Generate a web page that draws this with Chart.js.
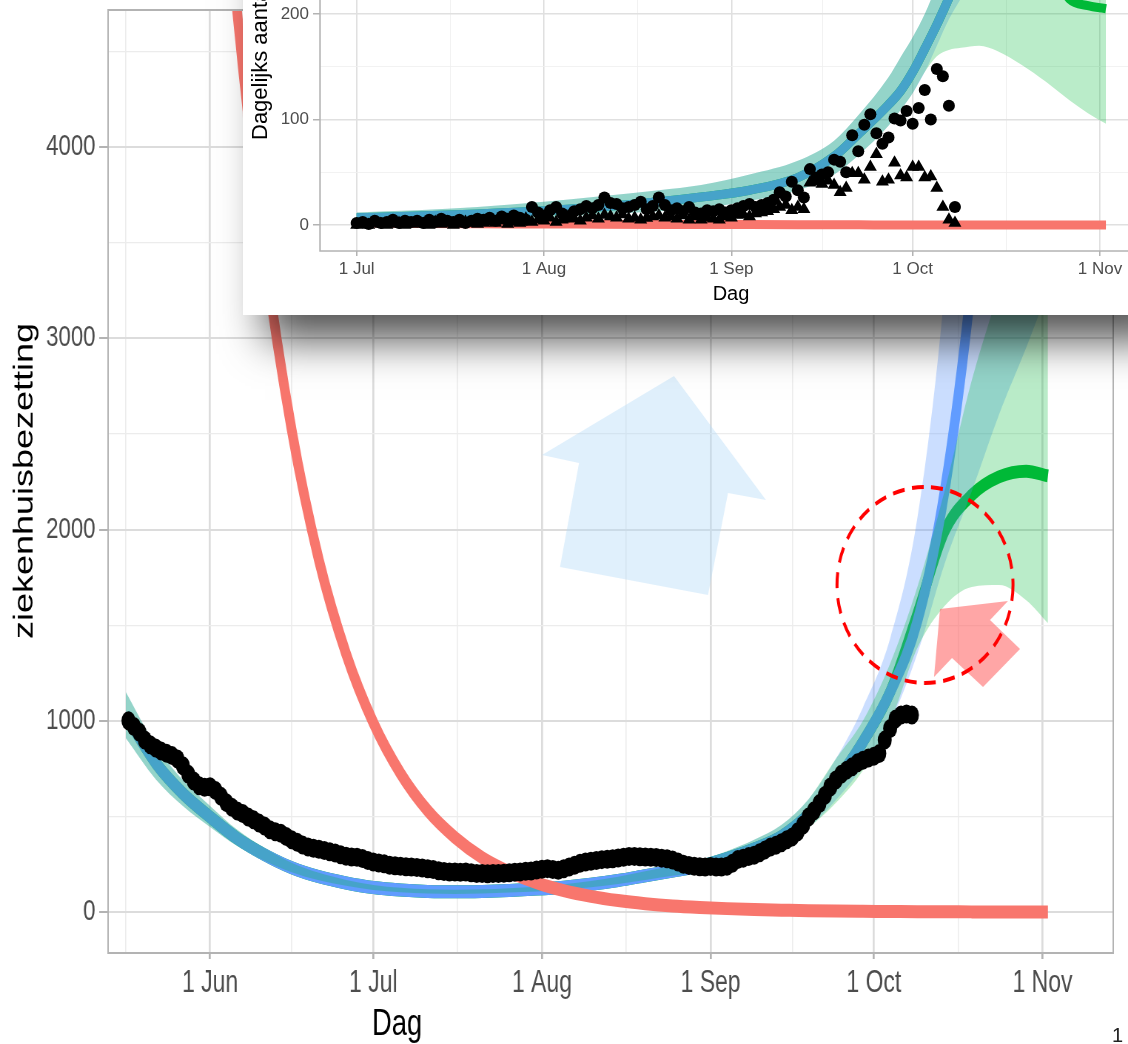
<!DOCTYPE html>
<html>
<head>
<meta charset="utf-8">
<script src="https://cdn.jsdelivr.net/npm/chart.js@4.4.1/dist/chart.umd.min.js"></script>
<style>
  html, body { margin: 0; padding: 0; background: #fff; overflow: hidden; }
  #page { position: relative; width: 1128px; height: 1044px; overflow: hidden; background: #fff; }
  #main { position: absolute; left: 0; top: 0; }
  #inset { position: absolute; left: 243px; top: -300px; width: 925px; height: 615px; background: #fff;
           box-shadow: 12px 35px 40px -10px rgba(0,0,0,0.68); }
  #pageNo { position: absolute; left: 1112px; top: 1024px; font: 20px 'Liberation Sans', Arial, sans-serif; color: #222; }
</style>
</head>
<body>
<div id="page">
  <canvas id="main" width="1524" height="1044" style="width:1128px;height:1044px"></canvas>
  <div id="inset"><canvas id="insetChart" width="925" height="615" style="width:925px;height:615px"></canvas></div>
  <div id="pageNo">1</div>
</div>
<script>
// ---------- main chart: x = days counted from 1 Jun ----------
const mainTickDays = [-15.5, 0, 15, 30, 45.5, 61, 76.5, 92, 107, 122, 137.5, 153];
const mainMonthDays = [0, 30, 61, 92, 122, 153];
const mainMonthLabels = ['1 Jun', '1 Jul', '1 Aug', '1 Sep', '1 Oct', '1 Nov'];
const mainYTicks = [0, 500, 1000, 1500, 2000, 2500, 3000, 3500, 4000, 4500];
const mainYMajor = [0, 1000, 2000, 3000, 4000];

// hospital occupancy, one value per day from 16 May (day -15) to 8 Oct (day 129)
const occStart = -15;
const occupancy = [
  1000, 970, 940, 900, 875, 858, 842, 830, 818, 800,
  765, 720, 685, 660, 652, 655, 635, 605, 572, 548,
  528, 515, 497, 482, 465, 450, 430, 420, 412, 395,
  378, 365, 350, 340, 333, 328, 322, 315, 309, 300,
  292, 288, 287, 280, 270, 262, 257, 252, 245, 242,
  240, 237, 236, 233, 230, 226, 222, 216, 212, 209,
  210, 208, 209, 205, 202, 201, 200, 202, 201, 203,
  205, 208, 210, 213, 215, 220, 224, 227, 222, 218,
  226, 236, 245, 255, 262, 266, 270, 274, 276, 279,
  283, 287, 290, 291, 289, 288, 287, 285, 282, 279,
  272, 262, 250, 244, 240, 237, 236, 238, 236, 235,
  240, 255, 275, 282, 290, 297, 310, 325, 340, 349,
  362, 378, 393, 420, 455, 497, 530, 567, 610, 654,
  690, 720, 742, 760, 780, 794, 805, 815, 829, 899,
  960, 1010, 1030, 1035, 1030
];

// model curves (same day grid)
const modelDays = [-15.5, -10, -5, 0, 5, 10, 15, 20, 25, 30, 35, 40, 45, 50, 55, 60, 65, 70, 75, 80,
                   85, 90, 95, 100, 105, 110, 115, 120, 125, 130, 135, 140, 145, 150, 154];
const blueFit = [1030, 780, 620, 497, 385, 300, 232, 185, 152, 128, 115, 108, 106, 108, 113, 120, 130, 145, 165, 190,
                 215, 240, 280, 330, 395, 510, 680, 890, 1150, 1520, 2200, 3300, 4900, 7200, 9500];
const blueHi = [1150, 870, 690, 555, 430, 335, 258, 205, 168, 142, 127, 119, 117, 119, 125, 133, 145, 162, 185, 213,
                242, 272, 318, 378, 455, 590, 800, 1070, 1430, 2060, 3250, 5200, 8000, 12000, 16000];
const blueLo = [910, 695, 555, 445, 345, 268, 208, 166, 137, 115, 104, 97, 95, 97, 102, 108, 117, 130, 147, 168,
                190, 210, 245, 287, 342, 440, 585, 760, 990, 1350, 1820, 2200, 2600, 2950, 3250];
const greenFit = [1030, 780, 620, 497, 385, 300, 232, 185, 152, 128, 115, 108, 106, 108, 113, 120, 130, 145, 165, 190,
                  215, 240, 280, 330, 395, 510, 680, 890, 1150, 1560, 1990, 2180, 2275, 2305, 2280];
const greenHi = [1150, 870, 690, 555, 430, 335, 258, 205, 168, 142, 127, 119, 117, 119, 125, 133, 145, 162, 185, 213,
                 242, 272, 318, 378, 455, 590, 800, 1000, 1300, 1700, 2200, 2780, 3250, 3700, 4000];
const greenLo = [910, 695, 555, 445, 345, 268, 208, 166, 137, 115, 104, 97, 95, 97, 102, 108, 117, 130, 147, 168,
                 190, 210, 245, 287, 342, 440, 570, 740, 990, 1380, 1600, 1700, 1710, 1630, 1510];
const redFit = [17000, 12400, 9100, 6350, 4700, 3450, 2520, 1840, 1350, 990, 725, 530, 390, 285, 210, 153, 112, 82, 60, 44,
                32, 24, 18, 13, 10, 7, 5, 4, 3, 2, 2, 1, 1, 1, 1];

// ---------- inset: x = days counted from 1 Jul ----------
const insetTickDays = [0, 15.5, 31, 46.5, 62, 77, 92, 107.5, 123];
const insetMonthDays = [0, 31, 62, 92, 123];
const insetMonthLabels = ['1 Jul', '1 Aug', '1 Sep', '1 Oct', '1 Nov'];
const insetYTicks = [0, 50, 100, 150, 200, 250, 300, 350, 400, 450];
const insetYMajor = [0, 100, 200, 300, 400];

const obsStart = 0;
const admCircles = [
  2, 3, 1, 4, 2, 3, 5, 2, 4, 3,
  4, 2, 5, 3, 6, 4, 3, 5, 2, 4,
  6, 5, 7, 4, 8, 6, 9, 7, 5, 17,
  12, 9, 14, 17, 11, 8, 13, 15, 18, 16,
  19, 26, 21, 20, 16, 17, 19, 22, 15, 18,
  26, 19, 14, 16, 13, 17, 12, 11, 14, 13,
  15, 12, 14, 16, 18, 20, 17, 19, 21, 24,
  31, 27, 41, 33, 26, 53, 45, 48, 50, 62,
  60, 50, 85, 70, 95, 105, 87, 77, 83, 101,
  99, 108, 96, 111, 128, 100, 148, 141, 113, 17
];
const admTriangles = [
  0, 1, 0, 2, 1, 0, 1, 2, 0, 1,
  2, 1, 0, 3, 1, 2, 0, 1, 3, 2,
  1, 2, 3, 2, 4, 1, 3, 2, 6, 3,
  5, 4, 7, 3, 5, 8, 6, 4, 7, 9,
  6, 9.5, 8, 7, 10, 6, 7, 5, 6.6, 8,
  9, 7, 8, 6, 9, 5, 8, 5, 7, 6,
  5, 8, 7, 9.5, 10, 8, 11, 12, 13, 15,
  17, 19, 14, 17, 15, 40, 41, 39, 42, 38,
  31, 35, 49, 49, 43, 55, 67, 41, 43, 59,
  47, 45, 55, 55, 45, 46, 35, 17, 5, 2
];

const insetDays = [0, 10, 20, 31, 40, 50, 57, 65, 73, 79, 83, 88, 90, 92, 94, 96, 98, 100, 103, 106, 110, 114, 118, 121, 124];
const iBlue = [7, 8.5, 10.5, 13.5, 17, 22, 26.5, 33, 45, 65, 86, 114, 127, 145, 167, 190, 215, 240, 290, 345, 440, 560, 700, 830, 980];
const iBlueHi = [12, 14, 17, 22, 27, 33, 38, 48, 61, 80, 104, 140, 159, 178, 200, 228, 260, 295, 360, 430, 560, 720, 900, 1050, 1250];
const iBlueLo = [3, 4, 5, 7, 10, 13, 16, 23, 33, 48, 66, 94, 109, 125, 145, 170, 195, 215, 245, 275, 315, 350, 380, 400, 420];
const iGreen = [7, 8.5, 10.5, 13.5, 17, 22, 26.5, 33, 45, 65, 86, 114, 127, 145, 167, 190, 215, 240, 262, 275, 272, 250, 214, 208, 205];
const iGreenHi = [12, 14, 17, 22, 27, 33, 38, 48, 61, 80, 104, 140, 159, 178, 200, 228, 260, 295, 360, 430, 560, 720, 900, 1050, 1250];
const iGreenLo = [3, 4, 5, 7, 10, 13, 16, 23, 33, 48, 66, 94, 109, 125, 145, 160, 166, 168, 170, 165, 152, 136, 118, 106, 96];
const iRed = [2, 1.5, 1.2, 1, 0.8, 0.6, 0.5, 0.4, 0.3, 0.2, 0.2, 0.1, 0.1, 0.1, 0.1, 0.1, 0, 0, 0, 0, 0, 0, 0, 0, 0];

// ---------- colours ----------
const RED = '#F8766D', GREEN = '#00BA38', BLUE = '#619CFF';
const BLUE_FILL = 'rgba(97,156,255,0.33)', GREEN_FILL = 'rgba(0,186,56,0.27)';
const NONE = 'rgba(0,0,0,0)';

Chart.defaults.font.family = "'Liberation Sans', Arial, sans-serif";

function pts(xs, ys) { return ys.map((y, i) => ({x: xs[i], y: y})); }
function seq(start, ys) { return ys.map((y, i) => ({x: start + i, y: y})); }

function edge(data) {
  return {data: data, borderColor: NONE, borderWidth: 0, pointRadius: 0, fill: false,
          cubicInterpolationMode: 'monotone', clip: 0, order: 9};
}
function ribbon(data, colour, order) {
  return {data: data, borderColor: NONE, borderWidth: 0, pointRadius: 0, fill: '-1', backgroundColor: colour,
          cubicInterpolationMode: 'monotone', clip: 0, order: order};
}
function curve(data, colour, width, order) {
  return {data: data, borderColor: colour, borderWidth: width, pointRadius: 0, fill: false,
          cubicInterpolationMode: 'monotone', clip: 0, order: order};
}

function byMajor(majors, major, minor) {
  return ctx => (ctx.tick && majors.includes(ctx.tick.value)) ? major : minor;
}
function noPad(s) { s.paddingTop = 0; s.paddingBottom = 0; s.paddingLeft = 0; s.paddingRight = 0; }

// ---------- main chart ----------
const SQ = 1128 / 1524;   // the picture is squeezed horizontally
const blueArrow = [[674, 376], [766, 500], [728, 493], [708, 595], [560, 567], [579, 463], [542, 455]];
const pinkArrow = [[940, 609], [1008, 601], [990, 620], [1020, 649], [983, 687], [952, 658], [934, 677]];

function polygon(ctx, p, colour) {
  ctx.beginPath();
  p.forEach((q, i) => i ? ctx.lineTo(q[0] / SQ, q[1]) : ctx.moveTo(q[0] / SQ, q[1]));
  ctx.closePath();
  ctx.fillStyle = colour;
  ctx.fill();
}

const mainDecor = {
  id: 'mainDecor',
  afterDatasetsDraw(chart) {
    const ctx = chart.ctx, a = chart.chartArea;
    ctx.save();
    polygon(ctx, blueArrow, 'rgba(177,217,247,0.4)');
    polygon(ctx, pinkArrow, 'rgba(255,107,107,0.6)');
    ctx.beginPath();
    ctx.ellipse(925 / SQ, 585, 88 / SQ, 98, 0, 0, Math.PI * 2);
    ctx.setLineDash([16, 10]);
    ctx.lineWidth = 4;
    ctx.strokeStyle = '#ff0000';
    ctx.stroke();
    ctx.setLineDash([]);
    ctx.lineWidth = 2;
    ctx.strokeStyle = '#b3b3b3';
    ctx.strokeRect(a.left, a.top, a.right - a.left, a.bottom - a.top);
    ctx.restore();
  },
  afterDraw(chart) {
    const ctx = chart.ctx;
    ctx.save();
    ctx.fillStyle = '#000';
    ctx.textAlign = 'center';
    ctx.textBaseline = 'middle';
    ctx.font = "37px 'Liberation Sans', Arial, sans-serif";
    ctx.fillText('Dag', 397 / SQ, 1025);
    ctx.translate(25 / SQ, 481);
    ctx.rotate(-Math.PI / 2);
    ctx.font = "36px 'Liberation Sans', Arial, sans-serif";
    ctx.fillText('ziekenhuisbezetting', 0, 0);
    ctx.restore();
  }
};

new Chart(document.getElementById('main'), {
  type: 'line',
  data: {
    datasets: [
      edge(pts(modelDays, blueLo)),
      ribbon(pts(modelDays, blueHi), BLUE_FILL, 4),
      curve(pts(modelDays, blueFit), BLUE, 13, 3),
      edge(pts(modelDays, greenLo)),
      ribbon(pts(modelDays, greenHi), GREEN_FILL, 2),
      curve(pts(modelDays, greenFit), GREEN, 13, 5),
      curve(pts(modelDays, redFit), RED, 13, 1),
      {data: seq(occStart, occupancy), showLine: false, pointRadius: 9.5, pointBackgroundColor: '#000',
       pointBorderColor: '#000', pointBorderWidth: 0, clip: 0, order: 0}
    ]
  },
  options: {
    responsive: false,
    devicePixelRatio: 1,
    animation: false,
    events: [],
    layout: {padding: {top: 10, right: 20, bottom: 0, left: 0}},
    plugins: {legend: {display: false}, tooltip: {enabled: false}},
    scales: {
      x: {
        type: 'linear', min: -18.75, max: 166,
        afterBuildTicks: s => { s.ticks = mainTickDays.map(v => ({value: v})); },
        afterFit: s => { s.height = 91; noPad(s); },
        border: {display: false},
        grid: {color: byMajor(mainMonthDays, '#dcdcdc', '#ececec'),
               lineWidth: byMajor(mainMonthDays, 2.7, 1.6),
               tickColor: byMajor(mainMonthDays, '#b3b3b3', NONE),
               tickWidth: 2.7, tickLength: 6},
        ticks: {autoSkip: false, maxRotation: 0, minRotation: 0, padding: 6, color: '#4d4d4d',
                font: {size: 31},
                callback: v => { const i = mainMonthDays.indexOf(v); return i >= 0 ? mainMonthLabels[i] : ''; }}
      },
      y: {
        type: 'linear', min: -214, max: 4716,
        afterBuildTicks: s => { s.ticks = mainYTicks.map(v => ({value: v})); },
        afterFit: s => { s.width = 146; noPad(s); },
        border: {display: false},
        grid: {color: byMajor(mainYMajor, '#dcdcdc', '#ececec'),
               lineWidth: byMajor(mainYMajor, 2, 1.2),
               tickColor: byMajor(mainYMajor, '#b3b3b3', NONE),
               tickWidth: 2, tickLength: 12},
        ticks: {padding: 5, color: '#4d4d4d', font: {size: 30},
                callback: v => mainYMajor.includes(v) ? String(v) : ''}
      }
    }
  },
  plugins: [mainDecor]
});

// ---------- inset ----------
const insetDecor = {
  id: 'insetDecor',
  afterDatasetsDraw(chart) {
    const ctx = chart.ctx, a = chart.chartArea;
    ctx.save();
    ctx.lineWidth = 1.5;
    ctx.strokeStyle = '#b3b3b3';
    ctx.strokeRect(a.left, a.top, a.right - a.left, a.bottom - a.top);
    ctx.restore();
  },
  afterDraw(chart) {
    const ctx = chart.ctx, a = chart.chartArea;
    ctx.save();
    ctx.fillStyle = '#000';
    ctx.textBaseline = 'middle';
    ctx.textAlign = 'center';
    ctx.font = "20px 'Liberation Sans', Arial, sans-serif";
    ctx.fillText('Dag', (a.left + a.right) / 2, 594);
    ctx.translate(24, 440);
    ctx.rotate(-Math.PI / 2);
    ctx.textAlign = 'left';
    ctx.textBaseline = 'alphabetic';
    ctx.font = "22px 'Liberation Sans', Arial, sans-serif";
    ctx.fillText('Dagelijks aantal opnames', 0, 0);
    ctx.restore();
  }
};

new Chart(document.getElementById('insetChart'), {
  type: 'line',
  data: {
    datasets: [
      edge(pts(insetDays, iBlueLo)),
      ribbon(pts(insetDays, iBlueHi), BLUE_FILL, 4),
      curve(pts(insetDays, iBlue), BLUE, 9, 3),
      edge(pts(insetDays, iGreenLo)),
      ribbon(pts(insetDays, iGreenHi), GREEN_FILL, 2),
      curve(pts(insetDays, iGreen), GREEN, 9, 5),
      curve(pts(insetDays, iRed), RED, 9, 1),
      {data: seq(obsStart, admCircles), showLine: false, pointRadius: 6, pointBackgroundColor: '#000',
       pointBorderColor: '#000', pointBorderWidth: 0, clip: 0, order: 0},
      {data: seq(obsStart, admTriangles), showLine: false, pointStyle: 'triangle', pointRadius: 7.5,
       pointBackgroundColor: '#000', pointBorderColor: '#000', pointBorderWidth: 0, clip: 0, order: 0}
    ]
  },
  options: {
    responsive: false,
    devicePixelRatio: 1,
    animation: false,
    events: [],
    layout: {padding: {top: 32, right: 26, bottom: 0, left: 0}},
    plugins: {legend: {display: false}, tooltip: {enabled: false}},
    scales: {
      x: {
        type: 'linear', min: -6.07, max: 129.95,
        afterBuildTicks: s => { s.ticks = insetTickDays.map(v => ({value: v})); },
        afterFit: s => { s.height = 64; noPad(s); },
        border: {display: false},
        grid: {color: byMajor(insetMonthDays, '#e0e0e0', '#efefef'),
               lineWidth: byMajor(insetMonthDays, 1.5, 0.8),
               tickColor: byMajor(insetMonthDays, '#b3b3b3', NONE),
               tickWidth: 1.5, tickLength: 5},
        ticks: {autoSkip: false, maxRotation: 0, minRotation: 0, padding: 3, color: '#4d4d4d',
                font: {size: 17},
                callback: v => { const i = insetMonthDays.indexOf(v); return i >= 0 ? insetMonthLabels[i] : ''; }}
      },
      y: {
        type: 'linear', min: -24.6, max: 467.3,
        afterBuildTicks: s => { s.ticks = insetYTicks.map(v => ({value: v})); },
        afterFit: s => { s.width = 77; noPad(s); },
        border: {display: false},
        grid: {color: byMajor(insetYMajor, '#e0e0e0', '#efefef'),
               lineWidth: byMajor(insetYMajor, 1.5, 0.8),
               tickColor: byMajor(insetYMajor, '#b3b3b3', NONE),
               tickWidth: 1.5, tickLength: 7},
        ticks: {padding: 4, color: '#4d4d4d', font: {size: 17},
                callback: v => insetYMajor.includes(v) ? String(v) : ''}
      }
    }
  },
  plugins: [insetDecor]
});
</script>
</body>
</html>
